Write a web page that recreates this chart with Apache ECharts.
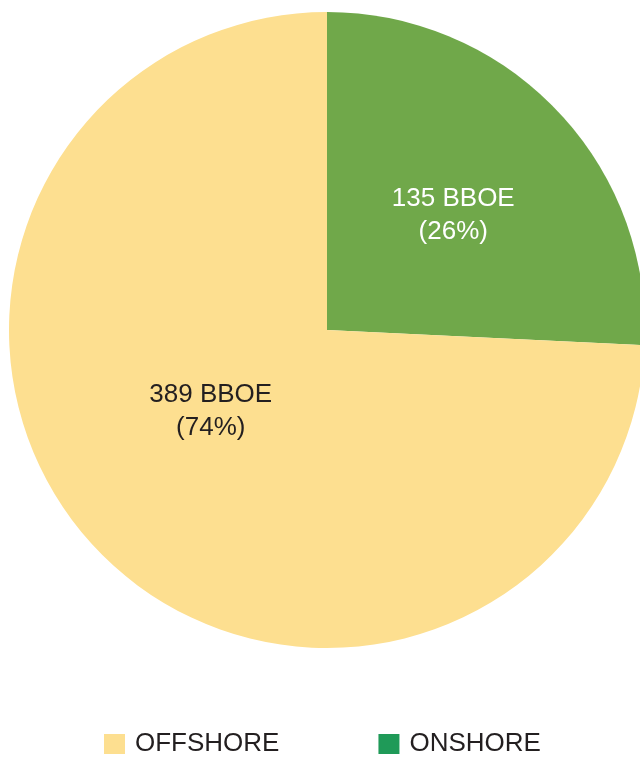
<!DOCTYPE html>
<html>
<head>
<meta charset="utf-8">
<script src="https://cdn.jsdelivr.net/npm/echarts@6/dist/echarts.min.js"></script>
<style>html,body{margin:0;padding:0;background:#fff}#c{width:640px;height:758px}</style>
</head>
<body>
<div id="c"></div>
<script>
const categories = ['ONSHORE', 'OFFSHORE'];
const values = [135, 389];
const unit = 'BBOE';
const sliceColors = ['#70a84a', '#fddf90'];
const legendOrder = ['OFFSHORE', 'ONSHORE'];
const legendColors = ['#fddf90', '#1f9a58'];
const labelColors = ['#ffffff', '#231f20'];
const labelOffsets = [[9, -3], [1, -30]];
const FONT = '"Liberation Sans", Arial, sans-serif';

const total = values.reduce((a, b) => a + b, 0);
const chart = echarts.init(document.getElementById('c'), null, {renderer: 'canvas'});
chart.setOption({
  animation: false,
  legend: {
    left: 104, top: 731, padding: 0,
    itemWidth: 21, itemHeight: 20, itemGap: 99,
    icon: 'rect',
    selectedMode: false,
    textStyle: {fontFamily: FONT, fontSize: 26, color: '#231f20', padding: [0, 0, 0, 5]},
    data: legendOrder.map((n, i) => ({name: n, itemStyle: {color: legendColors[i]}}))
  },
  series: [{
    type: 'pie',
    center: [327, 330],
    radius: [0, 318],
    startAngle: 90,
    clockwise: true,
    avoidLabelOverlap: false,
    labelLine: {show: false},
    data: categories.map((n, i) => ({
      name: n, value: values[i],
      itemStyle: {color: sliceColors[i]},
      label: {
        show: true, position: 'inside', color: labelColors[i], offset: labelOffsets[i],
        fontFamily: FONT, fontSize: 26, lineHeight: 33,
        formatter: p => p.value + ' ' + unit + '\n(' + Math.round(p.value / total * 100) + '%)'
      }
    }))
  }]
});
</script>
</body>
</html>
